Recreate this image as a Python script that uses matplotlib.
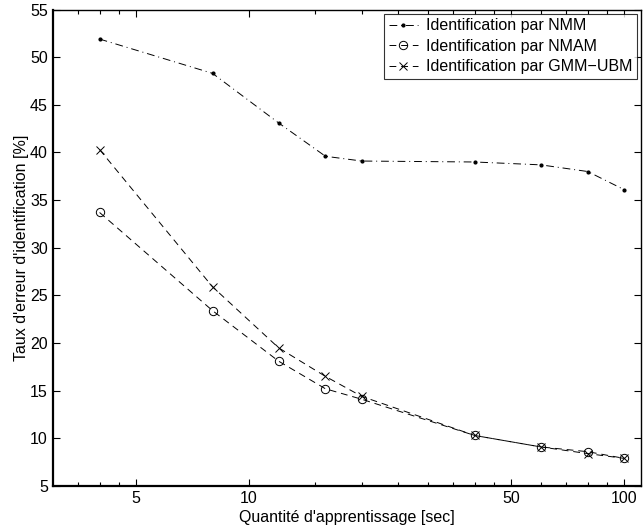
import matplotlib
matplotlib.use("Agg")
import matplotlib.pyplot as plt
from matplotlib.ticker import FixedLocator, NullFormatter

plt.rcParams['font.family'] = ['Liberation Sans', 'DejaVu Sans']

x_sec = [4, 8, 12, 16, 20, 40, 60, 80, 100]
nmm = [51.9, 48.3, 43.1, 39.6, 39.1, 39.0, 38.7, 38.0, 36.1]
nmam = [33.7, 23.4, 18.1, 15.2, 14.1, 10.3, 9.1, 8.6, 7.9]
gmm_ubm = [40.3, 25.9, 19.5, 16.5, 14.4, 10.3, 9.1, 8.4, 7.9]

labels = ["Identification par NMM", "Identification par NMAM", "Identification par GMM\u2212UBM"]
xticks = [5, 10, 50, 100]
xminor = [3.5, 4, 4.5, 15, 20, 25, 30, 35, 40, 45, 60, 70, 80, 90]
yticks = list(range(5, 56, 5))

fs = 11.5
fig = plt.figure(figsize=(6.43, 5.29), dpi=100)
ax = fig.add_axes([0.082, 0.0813, 0.915, 0.9007])

lw = 0.7
ax.plot(x_sec, nmm, linestyle=(0, (8, 4, 1, 4)), color='black', lw=lw,
        marker='.', markersize=4, label=labels[0])
ax.plot(x_sec, nmam, linestyle=(0, (7, 5)), color='black', lw=lw,
        marker='o', markersize=6, markerfacecolor='none', markeredgewidth=0.7, label=labels[1])
ax.plot(x_sec, gmm_ubm, linestyle=(0, (7, 5)), color='black', lw=lw,
        marker='x', markersize=5.5, markeredgewidth=0.7, label=labels[2])

ax.set_xscale('log')
ax.set_xlim(3, 111)
ax.set_ylim(5, 55)
ax.xaxis.set_major_locator(FixedLocator(xticks))
ax.set_xticklabels([str(t) for t in xticks])
ax.xaxis.set_minor_locator(FixedLocator(xminor))
ax.xaxis.set_minor_formatter(NullFormatter())
ax.set_yticks(yticks)

ax.tick_params(which='both', direction='in', top=True, right=True, labelsize=fs, width=0.8)
ax.tick_params(which='major', length=5)
ax.tick_params(which='minor', length=3)
for s in ax.spines.values():
    s.set_linewidth(1.0)
ax.spines['bottom'].set_linewidth(1.6)
ax.spines['left'].set_linewidth(1.6)

ax.set_xlabel("Quantité d'apprentissage [sec]", fontsize=fs, labelpad=3)
ax.set_ylabel("Taux d'erreur d'identification [%]", fontsize=fs, labelpad=1)

leg = ax.legend(loc='upper right', fontsize=fs, frameon=True, fancybox=False,
                edgecolor='black', handlelength=1.8, handletextpad=0.5,
                borderpad=0.3, labelspacing=0.35, borderaxespad=0.25)
leg.get_frame().set_linewidth(0.8)

fig.savefig("out.png", dpi=100)
